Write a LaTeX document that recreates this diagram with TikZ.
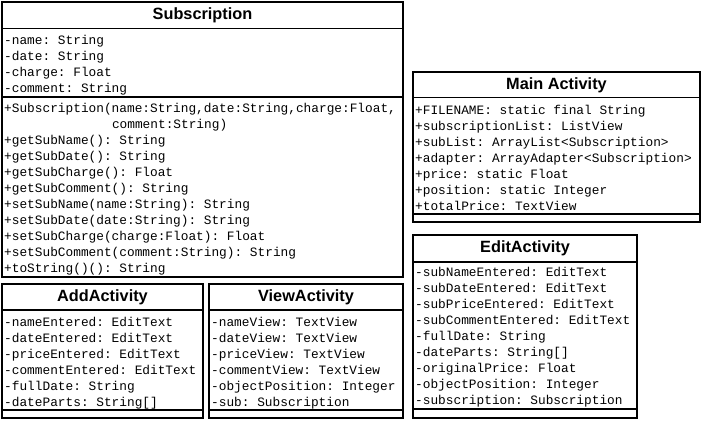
\documentclass[tikz,border=0pt]{standalone}
\usepackage{fontspec}
\setmainfont{Liberation Sans}
\newfontfamily\monof{Liberation Mono}
\frenchspacing
\begin{document}
\begin{tikzpicture}[x=1pt,y=-1pt,
  box/.style={draw, line width=1.6pt},
  sepl/.style={line width=1.6pt},
  ttl/.style={font=\fontsize{16.3}{18}\selectfont\bfseries, inner sep=0},
  ln/.style={font=\monof\fontsize{12.8}{16}\selectfont\frenchspacing, anchor=west, inner sep=0, text height=10pt, text depth=2pt}]
\useasboundingbox (0,0) rectangle (703,422);
% Subscription
\draw[box] (2,2) rectangle (403,277);
\draw[sepl] (2,28.5) -- (403,28.5);
\draw[sepl] (2,97) -- (403,97);
\node[ttl] (st) at (202.5,15.5) {Subscription};
\node[ln] (s1) at (4,40.5) {-name: String};
\node[ln] (s2) at (4,56.5) {-date: String};
\node[ln] (s3) at (4,72.5) {-charge: Float};
\node[ln] (s4) at (4,88.5) {-comment: String};
\node[ln] (m1) at (4,108.5) {+Subscription(name:String,date:String,charge:Float,};
\node[ln] (m1b) at (111.8,124.5) {comment:String)};
\node[ln] (m2) at (4,140.5) {+getSubName(): String};
\node[ln] (m3) at (4,156.5) {+getSubDate(): String};
\node[ln] (m4) at (4,172.5) {+getSubCharge(): Float};
\node[ln] (m5) at (4,188.5) {+getSubComment(): String};
\node[ln] (m6) at (4,204.5) {+setSubName(name:String): String};
\node[ln] (m7) at (4,220.5) {+setSubDate(date:String): String};
\node[ln] (m8) at (4,236.5) {+setSubCharge(charge:Float): Float};
\node[ln] (m9) at (4,252.5) {+setSubComment(comment:String): String};
\node[ln] (m10) at (4,268.5) {+toString()(): String};
% AddActivity
\draw[box] (2,284) rectangle (203,418);
\draw[sepl] (2,310) -- (203,310);
\draw[sepl] (2,410) -- (203,410);
\node[ttl] (at) at (102.5,297.5) {AddActivity};
\node[ln] (a1) at (4,322.5) {-nameEntered: EditText};
\node[ln] (a2) at (4,338.5) {-dateEntered: EditText};
\node[ln] (a3) at (4,354.5) {-priceEntered: EditText};
\node[ln] (a4) at (4,370.5) {-commentEntered: EditText};
\node[ln] (a5) at (4,386.5) {-fullDate: String};
\node[ln] (a6) at (4,402.5) {-dateParts: String[]};
% ViewActivity
\draw[box] (209,284) rectangle (403,418);
\draw[sepl] (209,310) -- (403,310);
\draw[sepl] (209,410) -- (403,410);
\node[ttl] (vt) at (306,297.5) {ViewActivity};
\node[ln] (v1) at (211,322.5) {-nameView: TextView};
\node[ln] (v2) at (211,338.5) {-dateView: TextView};
\node[ln] (v3) at (211,354.5) {-priceView: TextView};
\node[ln] (v4) at (211,370.5) {-commentView: TextView};
\node[ln] (v5) at (211,386.5) {-objectPosition: Integer};
\node[ln] (v6) at (211,402.5) {-sub: Subscription};
% Main Activity
\draw[box] (413,72) rectangle (700,222);
\draw[sepl] (413,97.5) -- (700,97.5);
\draw[sepl] (413,214) -- (700,214);
\node[ttl] (mt) at (556.5,85) {Main Activity};
\node[ln] (p1) at (415,110.5) {+FILENAME: static final String};
\node[ln] (p2) at (415,126.5) {+subscriptionList: ListView};
\node[ln] (p3) at (415,142.5) {+subList: ArrayList<Subscription>};
\node[ln] (p4) at (415,158.5) {+adapter: ArrayAdapter<Subscription>};
\node[ln] (p5) at (415,174.5) {+price: static Float};
\node[ln] (p6) at (415,190.5) {+position: static Integer};
\node[ln] (p7) at (415,206.5) {+totalPrice: TextView};
% EditActivity
\draw[box] (413,235) rectangle (637,418);
\draw[sepl] (413,262) -- (637,262);
\draw[sepl] (413,409) -- (637,409);
\node[ttl] (et) at (525,248.5) {EditActivity};
\node[ln] (e1) at (415,272.5) {-subNameEntered: EditText};
\node[ln] (e2) at (415,288.5) {-subDateEntered: EditText};
\node[ln] (e3) at (415,304.5) {-subPriceEntered: EditText};
\node[ln] (e4) at (415,320.5) {-subCommentEntered: EditText};
\node[ln] (e5) at (415,336.5) {-fullDate: String};
\node[ln] (e6) at (415,352.5) {-dateParts: String[]};
\node[ln] (e7) at (415,368.5) {-originalPrice: Float};
\node[ln] (e8) at (415,384.5) {-objectPosition: Integer};
\node[ln] (e9) at (415,400.5) {-subscription: Subscription};
\end{tikzpicture}
\end{document}
